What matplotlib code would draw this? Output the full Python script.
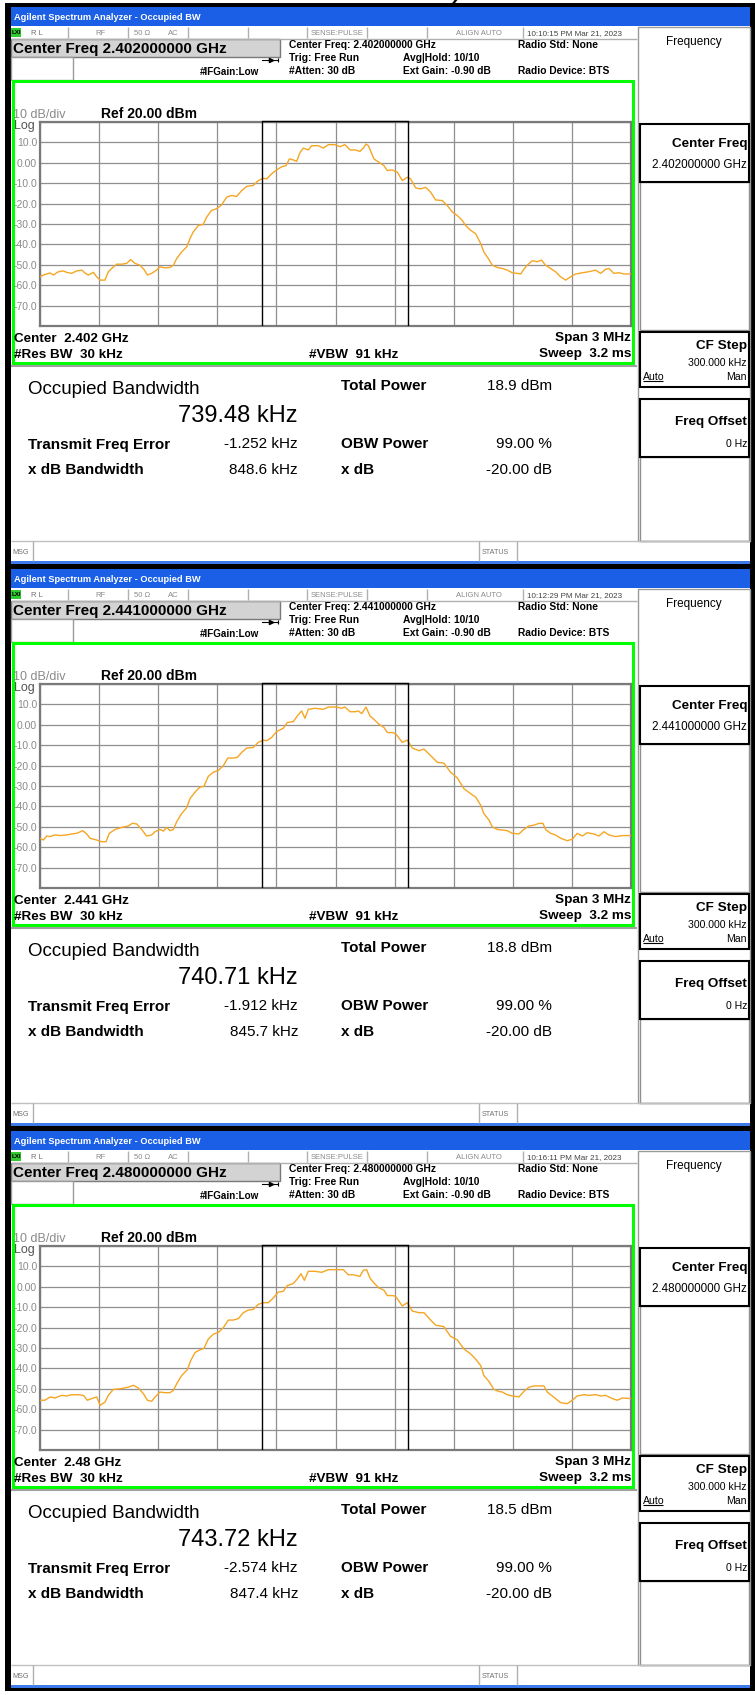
import numpy as np
import matplotlib
matplotlib.use('Agg')
import matplotlib.pyplot as plt
from matplotlib.patches import Rectangle

plt.rcParams['font.family'] = ['Liberation Sans', 'DejaVu Sans']

center_ghz = ['2.402', '2.441', '2.48']
center_full = ['2.402000000', '2.441000000', '2.480000000']
timestamps = ['10:10:15 PM Mar 21, 2023', '10:12:29 PM Mar 21, 2023', '10:16:11 PM Mar 21, 2023']
obw_khz = [739.48, 740.71, 743.72]
total_power = ['18.9 dBm', '18.8 dBm', '18.5 dBm']
freq_error_khz = [-1.252, -1.912, -2.574]
xdb_bw = ['848.6 kHz', '845.7 kHz', '847.4 kHz']

y_ticks = [-80, -70, -60, -50, -40, -30, -20, -10, 0, 10, 20]
y_labels = ['', '-70.0', '-60.0', '-50.0', '-40.0', '-30.0', '-20.0', '-10.0', '0.00', '10.0', '']

# trace: offset from center (kHz), level (dBm)
trace1_f = [-1500, -1483, -1449, -1432, -1407, -1382, -1365, -1339, -1314, -1288, -1272, -1255,
            -1229, -1212, -1195, -1170, -1153, -1136, -1111, -1085, -1060, -1040, -1018, -992,
            -972, -955, -933, -908, -891, -866, -840, -823, -806, -781, -755, -739, -722, -696,
            -671, -654, -629, -603, -578, -552, -527, -502, -476, -451, -417, -392, -366, -349,
            -324, -299, -273, -251, -234, -214, -197, -180, -163, -138, -121, -87, -62, -36, -3,
            23, 48, 74, 99, 124, 141, 155, 167,
            195, 220, 246, 263, 288, 314, 339, 364, 381, 407, 432, 457, 483, 508, 542, 567, 593,
            618, 643, 660, 686, 711, 737, 753, 770, 796, 821, 847, 872, 897, 923, 940, 956, 973,
            999, 1024, 1046, 1066, 1092, 1117, 1143, 1168, 1193, 1219, 1253, 1286, 1320, 1346,
            1371, 1388, 1413, 1439, 1464, 1500]
trace1_p = [-55.9, -55.0, -54.0, -55.0, -53.4, -53.0, -53.7, -54.2, -53.0, -52.6, -54.0, -55.0,
            -53.7, -55.9, -57.5, -57.5, -53.4, -51.8, -49.7, -49.7, -49.3, -47.4, -49.3, -50.2,
            -52.3, -55.0, -54.2, -52.6, -51.0, -51.5, -51.3, -50.2, -46.9, -43.7, -41.2, -37.2,
            -33.9, -30.7, -30.2, -26.6, -23.3, -22.5, -20.6, -16.8, -16.0, -16.5, -13.6, -11.6,
            -11.1, -8.7, -7.6, -7.9, -5.4, -3.5, -1.9, -1.4, 1.9, 1.4, 0.7, 5.1, 7.2, 6.3, 8.4,
            8.4, 7.2, 8.9, 8.9, 7.9, 8.9, 6.3, 6.3, 5.6, 7.2, 9.2, 8.4,
            1.9, 0.3, -1.4, -3.8, -3.5, -4.6, -8.7, -7.1, -7.9, -12.3, -12.8, -12.0, -14.4, -18.2,
            -18.5, -20.9, -24.1, -25.8, -28.2, -30.7, -33.1, -34.7, -39.6, -43.7, -46.1, -50.2,
            -51.3, -51.8, -52.6, -53.9, -54.2, -54.5, -52.2, -50.2, -48.0, -48.5, -47.7, -50.2,
            -51.8, -53.4, -55.9, -57.5, -55.9, -54.5, -53.9, -53.4, -52.6, -54.2, -52.2, -51.8,
            -54.2, -53.9, -54.5, -54.5]

trace2_f = [-1500, -1483, -1466, -1449, -1424, -1398, -1365, -1339, -1314, -1283, -1263, -1246,
            -1212, -1187, -1165, -1148, -1119, -1085, -1052, -1031, -1009, -984, -959, -933,
            -916, -891, -874, -857, -840, -823, -806, -781, -755, -739, -713, -688, -668, -646,
            -620, -595, -569, -547, -519, -497, -476, -451, -417, -392, -366, -349, -324, -299,
            -265, -245, -214, -194, -172, -155, -138, -104, -62, -36, 6, 31, 48, 74, 99, 116,
            133, 155, 175,
            195, 220, 246, 263, 288, 305, 339, 364, 390, 424, 449, 483, 517, 550, 584, 618, 652,
            686, 711, 737, 753, 779, 796, 821, 847, 872, 897, 931, 956, 982, 1007, 1033, 1053,
            1066, 1092, 1117, 1143, 1176, 1202, 1227, 1253, 1278, 1312, 1337, 1363, 1388, 1422,
            1456, 1500]
trace2_p = [-55.6, -56.5, -54.5, -54.8, -54.0, -54.3, -54.0, -53.5, -53.2, -51.9, -53.5, -55.6,
            -56.5, -57.3, -57.3, -53.2, -51.3, -50.3, -49.6, -48.3, -48.6, -51.3, -54.5, -54.0,
            -52.4, -51.3, -52.1, -50.3, -51.9, -51.3, -47.5, -43.5, -40.6, -36.2, -33.0, -30.5,
            -30.2, -25.3, -23.2, -22.4, -20.0, -16.3, -16.3, -15.9, -13.5, -11.4, -11.1, -8.6,
            -7.5, -7.8, -6.2, -3.3, -1.7, 1.1, 1.6, 4.3, 6.8, 3.2, 7.6, 8.1, 7.6, 8.7, 8.7, 8.1,
            8.7, 6.4, 6.4, 6.8, 5.5, 8.7, 4.3,
            2.7, 0.3, -1.3, -3.8, -3.8, -4.3, -8.6, -7.5, -11.4, -12.7, -11.9, -15.1, -18.4,
            -18.8, -23.2, -26.0, -31.3, -33.8, -35.4, -39.4, -43.5, -46.7, -50.0, -51.3, -51.6,
            -51.9, -53.2, -53.5, -51.3, -49.6, -49.2, -48.3, -48.3, -51.3, -53.2, -54.0, -55.6,
            -56.8, -56.1, -53.2, -54.5, -52.9, -53.5, -54.5, -52.4, -54.0, -54.8, -54.3, -54.3]

trace3_f = [-1500, -1475, -1449, -1424, -1390, -1365, -1339, -1305, -1280, -1260, -1229, -1212,
            -1195, -1170, -1153, -1128, -1094, -1052, -1026, -1001, -975, -955, -933, -916, -891,
            -866, -840, -823, -806, -781, -752, -735, -713, -688, -668, -646, -620, -595, -569,
            -544, -519, -493, -468, -443, -417, -392, -366, -341, -315, -290, -265, -245, -214,
            -197, -175, -158, -138, -104, -70, -36, -3, 40, 65, 90, 124, 141, 158, 175,
            195, 220, 246, 263, 288, 305, 339, 364, 390, 424, 449, 483, 508, 550, 584, 618, 652,
            686, 711, 737, 753, 779, 804, 830, 847, 872, 897, 931, 956, 982, 1007, 1033, 1058,
            1075, 1092, 1117, 1143, 1176, 1202, 1227, 1261, 1286, 1320, 1346, 1371, 1405, 1430,
            1456, 1500]
trace3_p = [-55.6, -55.6, -54.0, -54.5, -53.2, -53.5, -52.9, -52.9, -53.2, -55.6, -54.5, -54.0,
            -58.1, -56.5, -53.2, -50.3, -50.0, -49.2, -48.3, -49.6, -52.4, -55.6, -56.1, -54.0,
            -51.6, -51.9, -51.9, -50.8, -47.5, -43.5, -40.6, -36.2, -32.2, -30.9, -30.2, -25.7,
            -23.2, -22.4, -20.0, -16.3, -16.3, -15.6, -12.7, -11.4, -11.1, -8.6, -7.8, -7.8,
            -5.4, -2.6, -2.2, 0.6, 1.6, 3.5, 6.4, 3.2, 7.6, 7.6, 7.1, 8.4, 8.4, 8.4, 5.9, 5.9,
            5.1, 8.1, 8.4, 4.3,
            1.9, -0.5, -1.7, -4.3, -4.3, -4.6, -9.4, -7.8, -11.9, -12.7, -12.7, -16.3, -18.8,
            -19.5, -24.3, -26.0, -30.5, -32.9, -35.4, -38.6, -43.5, -46.4, -50.3, -51.3, -51.6,
            -52.9, -53.5, -54.0, -51.3, -49.2, -48.6, -48.6, -48.6, -51.6, -52.9, -54.8, -56.8,
            -57.3, -55.6, -53.5, -52.9, -53.2, -52.9, -53.5, -53.2, -54.8, -55.6, -54.5, -54.8]

traces = [(trace1_f, trace1_p), (trace2_f, trace2_p), (trace3_f, trace3_p)]

W, H = 755, 1695
STEP = 562
BLUE = '#1a5fe6'
GRAY_TXT = '#8a8a8a'
TRACE = '#f5a623'

fig = plt.figure(figsize=(W / 100, H / 100), dpi=100)
base = fig.add_axes([0, 0, 1, 1])
base.set_xlim(0, W)
base.set_ylim(H, 0)
base.axis('off')


def box(x0, y0, x1, y1, fc='none', ec='none', lw=1.0, z=1):
    base.add_patch(Rectangle((x0, y0), x1 - x0, y1 - y0, facecolor=fc, edgecolor=ec, lw=lw, zorder=z))


def hline(y, x0, x1, c='#b0b0b0', lw=1.0, z=3):
    base.plot([x0, x1], [y, y], color=c, lw=lw, zorder=z, solid_capstyle='butt')


def vline(x, y0, y1, c='#b0b0b0', lw=1.0, z=3):
    base.plot([x, x], [y0, y1], color=c, lw=lw, zorder=z, solid_capstyle='butt')


def txt(x, y, s, size, bold=False, color='black', ha='left', z=5):
    return base.text(x, y, s, fontsize=size, fontweight='bold' if bold else 'normal',
                     color=color, ha=ha, va='center_baseline', zorder=z)


# outer black frame
box(5, 3, 755, 1691, fc='black', z=0)
# tail of a cropped caption glyph at the very top edge
base.plot([456, 452], [0, 5], color='black', lw=1.6, zorder=6)

for i in range(3):
    oy = i * STEP
    # window
    box(11, oy + 7, 750, oy + 26, fc=BLUE, z=1)
    txt(14, oy + 17, 'Agilent Spectrum Analyzer - Occupied BW', 6.7, bold=True, color='white')
    box(11, oy + 26, 750, oy + 561, fc='white', z=1)
    box(11, oy + 561, 750, oy + 564, fc='#3d7bea', z=1)

    # status strip
    hline(oy + 38.5, 11, 637)
    for sx in [68, 128, 188, 248, 307, 367, 427, 523]:
        vline(sx, oy + 27, oy + 38)
    box(11, oy + 28, 21, oy + 37, fc='#2ecc2e', z=4)
    txt(12, oy + 32.5, 'LXI', 4.5, bold=True)
    txt(31, oy + 32.5, 'R L', 5.5, color='#707070')
    txt(95, oy + 32.5, 'RF', 5.5, color=GRAY_TXT)
    txt(134, oy + 32.5, '50 \u03a9', 5.5, color=GRAY_TXT)
    txt(168, oy + 32.5, 'AC', 5.5, color=GRAY_TXT)
    txt(311, oy + 32.5, 'SENSE:PULSE', 5.5, color=GRAY_TXT)
    txt(502, oy + 32.5, 'ALIGN AUTO', 5.5, color=GRAY_TXT, ha='right')
    txt(527, oy + 32.5, timestamps[i], 5.8, color='#404040')

    # center freq entry
    box(11, oy + 39, 280, oy + 57, fc='#d3d3d3', ec='#7a7a7a', lw=1, z=2)
    txt(13, oy + 48, 'Center Freq ' + center_full[i] + ' GHz', 11, bold=True)
    box(11, oy + 57, 73, oy + 80, fc='white', ec='#9a9a9a', lw=1, z=2)
    txt(200, oy + 71, '#IFGain:Low', 7.1, bold=True)
    base.plot([262, 278], [oy + 60, oy + 60], color='black', lw=0.8, zorder=4)
    base.plot([271], [oy + 60], marker='>', ms=3, color='black', zorder=4)
    vline(278, oy + 58, oy + 62, c='black', lw=0.8, z=4)

    txt(289, oy + 44, 'Center Freq: ' + center_full[i] + ' GHz', 7.4, bold=True)
    txt(289, oy + 57, 'Trig: Free Run', 7.4, bold=True)
    txt(289, oy + 70, '#Atten: 30 dB', 7.4, bold=True)
    txt(403, oy + 57, 'Avg|Hold: 10/10', 7.4, bold=True)
    txt(403, oy + 70, 'Ext Gain: -0.90 dB', 7.4, bold=True)
    txt(518, oy + 44, 'Radio Std: None', 7.4, bold=True)
    txt(518, oy + 70, 'Radio Device: BTS', 7.4, bold=True)

    # graph frame
    box(13, oy + 81, 633, oy + 363, ec='#00ff00', lw=2.2, z=3)
    txt(13, oy + 113, '10 dB/div', 9, color=GRAY_TXT)
    txt(101, oy + 113, 'Ref 20.00 dBm', 10, bold=True)
    txt(14, oy + 125, 'Log', 9, color='#555555')
    txt(14, oy + 337, 'Center  ' + center_ghz[i] + ' GHz', 9.7, bold=True)
    txt(14, oy + 353, '#Res BW  30 kHz', 9.7, bold=True)
    txt(309, oy + 353, '#VBW  91 kHz', 9.7, bold=True)
    txt(631, oy + 337, 'Span 3 MHz', 9.7, bold=True, ha='right')
    txt(631, oy + 353, 'Sweep  3.2 ms', 9.7, bold=True, ha='right')

    # results
    hline(oy + 366, 11, 637, c='#a0a0a0', lw=1.5)
    txt(28, oy + 388, 'Occupied Bandwidth', 13.5)
    txt(298, oy + 413, '%.2f kHz' % obw_khz[i], 17, ha='right')
    txt(341, oy + 385, 'Total Power', 11, bold=True)
    txt(552, oy + 385, total_power[i], 11, ha='right')
    txt(28, oy + 443, 'Transmit Freq Error', 11, bold=True)
    txt(298, oy + 443, '%.3f kHz' % freq_error_khz[i], 11, ha='right')
    txt(341, oy + 443, 'OBW Power', 11, bold=True)
    txt(552, oy + 443, '99.00 %', 11, ha='right')
    txt(28, oy + 468, 'x dB Bandwidth', 11, bold=True)
    txt(298, oy + 468, xdb_bw[i], 11, ha='right')
    txt(341, oy + 468, 'x dB', 11, bold=True)
    txt(552, oy + 468, '-20.00 dB', 11, ha='right')

    # message line
    hline(oy + 541, 11, 750, c='#c0c0c0')
    vline(33, oy + 541, oy + 561)
    vline(479, oy + 541, oy + 561)
    vline(517, oy + 541, oy + 561)
    txt(12, oy + 552, 'MSG', 5.2, color='#707070')
    txt(482, oy + 552, 'STATUS', 5.2, color='#707070')

    # soft keys
    box(638, oy + 27, 750, oy + 541, ec='#9a9a9a', lw=1, z=2)
    txt(694, oy + 40, 'Frequency', 8.5, ha='center')
    box(640, oy + 124, 749, oy + 182, ec='black', lw=1.5, z=3)
    txt(747, oy + 143, 'Center Freq', 9.7, bold=True, ha='right')
    txt(747, oy + 163, center_full[i] + ' GHz', 8.4, ha='right')
    box(640, oy + 182, 749, oy + 330, ec='#909090', lw=1, z=2)
    box(640, oy + 332, 749, oy + 387, ec='black', lw=1.5, z=3)
    txt(747, oy + 345, 'CF Step', 9.7, bold=True, ha='right')
    txt(747, oy + 362, '300.000 kHz', 7.6, ha='right')
    txt(643, oy + 376, 'Auto', 7.6)
    hline(oy + 381, 643, 663, c='black', lw=0.8)
    txt(747, oy + 376, 'Man', 7.6, ha='right')
    box(640, oy + 399, 749, oy + 457, ec='black', lw=1.5, z=3)
    txt(747, oy + 420, 'Freq Offset', 9.7, bold=True, ha='right')
    txt(747, oy + 443, '0 Hz', 7.6, ha='right')
    box(640, oy + 457, 749, oy + 541, ec='#909090', lw=1, z=2)

    # graticule
    ax = fig.add_axes([40 / W, 1 - (oy + 326) / H, 591 / W, 204 / H])
    ax.set_xlim(-1500, 1500)
    ax.set_ylim(-80, 20)
    ax.set_xticks(np.linspace(-1500, 1500, 11))
    ax.set_xticklabels([])
    ax.set_yticks(y_ticks)
    ax.set_yticklabels(y_labels)
    ax.tick_params(length=0, pad=2, labelsize=7.5, labelcolor=GRAY_TXT)
    ax.grid(True, color='#8f8f8f', lw=0.9)
    for sp in ax.spines.values():
        sp.set_color('#7a7a7a')
        sp.set_linewidth(1.6)

    f, p = traces[i]
    ax.plot(f, p, color=TRACE, lw=1.0, zorder=3)

    lo = freq_error_khz[i] - obw_khz[i] / 2
    hi = freq_error_khz[i] + obw_khz[i] / 2
    ax.axvline(lo, color='black', lw=1.0, zorder=4)
    ax.axvline(hi, color='black', lw=1.0, zorder=4)
    ax.plot([lo, hi], [20.6, 20.6], color='black', lw=1.0, clip_on=False, zorder=4)

fig.savefig('out.png', dpi=100)
